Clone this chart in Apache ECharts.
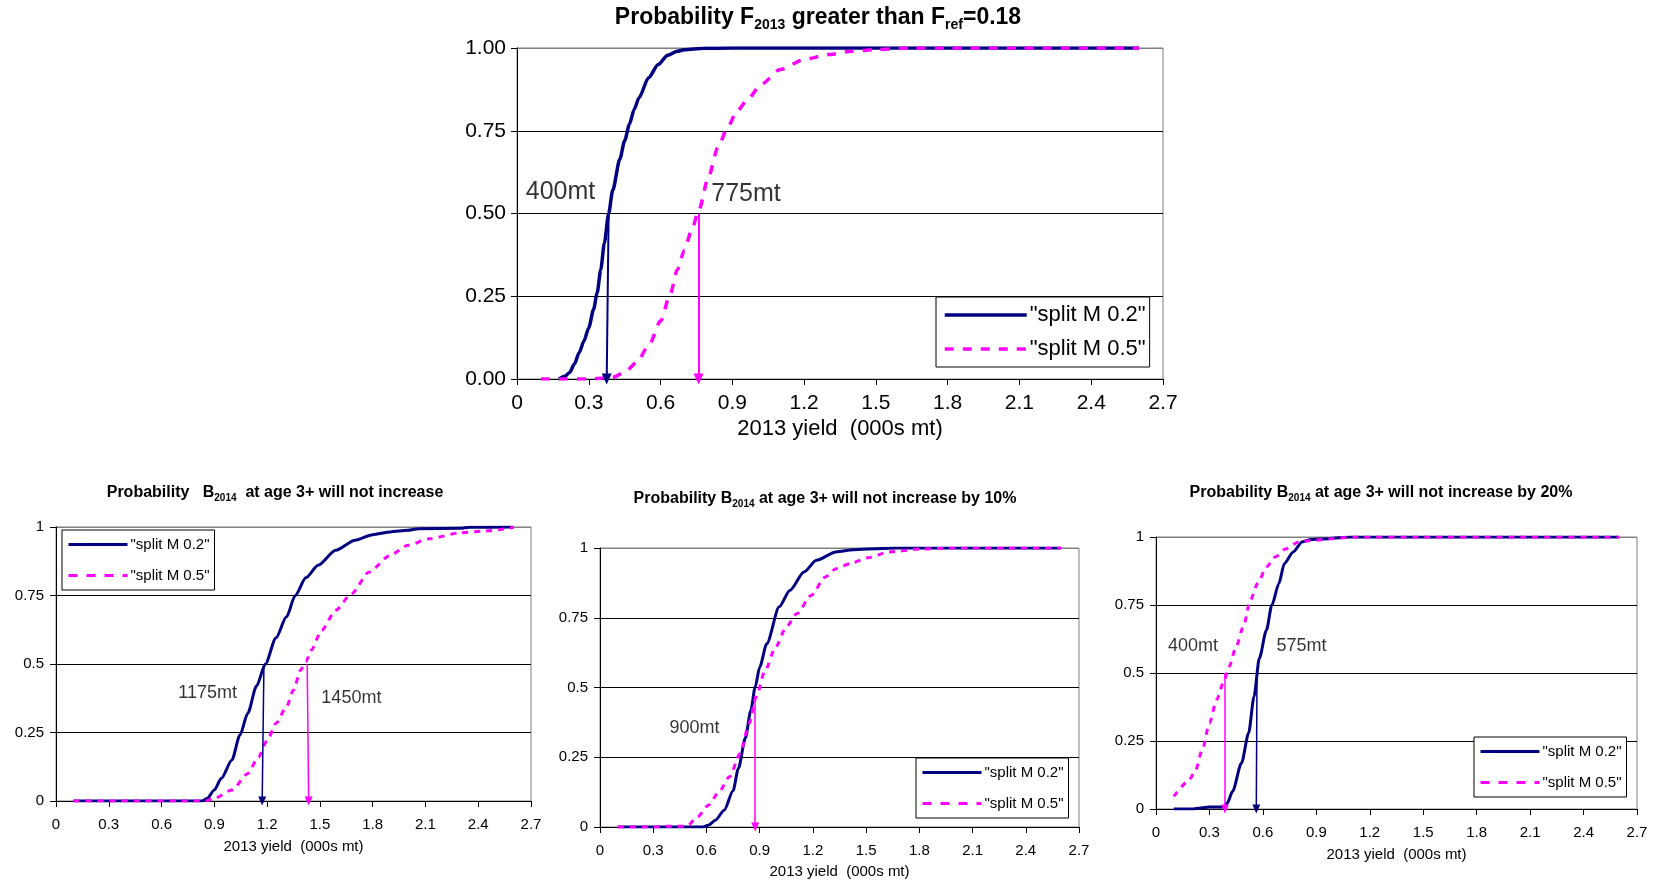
<!DOCTYPE html>
<html>
<head>
<meta charset="utf-8">
<script src="https://cdn.jsdelivr.net/npm/echarts@6/dist/echarts.min.js"></script>
<style>html,body{margin:0;padding:0;background:#fff;}#c{width:1659px;height:886px;}</style>
</head>
<body>
<div id="c"></div>
<script>
// ---------- data ----------
const seriesNames = ['"split M 0.2"', '"split M 0.5"'];
const xTicks = [0, 0.3, 0.6, 0.9, 1.2, 1.5, 1.8, 2.1, 2.4, 2.7];
const yTicks = [0, 0.25, 0.5, 0.75, 1];

const titles = [
  'Probability F{s|2013} greater than F{s|ref}=0.18',
  'Probability   B{s|2014}  at age 3+ will not increase',
  'Probability B{s|2014} at age 3+ will not increase by 10%',
  'Probability B{s|2014} at age 3+ will not increase by 20%'
];
const xName = '2013 yield  (000s mt)';

// Chart 1: Probability F2013 > Fref
const topM02 = [[0.175,0],[0.2,0.008],[0.22,0.02],[0.24,0.045],[0.26,0.08],[0.28,0.115],[0.3,0.155],[0.32,0.21],[0.335,0.26],[0.35,0.33],[0.365,0.41],[0.383,0.5],[0.4,0.57],[0.43,0.665],[0.45,0.72],[0.47,0.77],[0.49,0.815],[0.51,0.85],[0.55,0.91],[0.59,0.95],[0.63,0.978],[0.67,0.99],[0.7,0.995],[0.78,0.999],[0.9,1],[1.2,1],[1.5,1],[1.8,1],[2.1,1],[2.4,1],[2.6,1]];
const topM05 = [[0.1,0],[0.2,0],[0.3,0],[0.4,0.005],[0.45,0.02],[0.5,0.05],[0.55,0.1],[0.6,0.175],[0.64,0.255],[0.67,0.33],[0.7,0.39],[0.73,0.45],[0.76,0.51],[0.8,0.61],[0.84,0.7],[0.88,0.76],[0.92,0.81],[0.97,0.85],[1.02,0.89],[1.1,0.935],[1.2,0.965],[1.3,0.98],[1.4,0.99],[1.5,0.995],[1.65,1],[1.8,1],[2.1,1],[2.4,1],[2.6,1]];
const topArrows = [[0.383,0.5,0.375,0],[0.759,0.5,0.759,0]];   // [M0.2, M0.5]
const topNotes = ['400mt','775mt'];
const topNoteAt = [[0.182,0.564],[0.957,0.558]];

// Chart 2: B2014 will not increase
const blM02 = [[0.1,0],[0.3,0],[0.5,0],[0.7,0],[0.83,0],[0.86,0.01],[0.9,0.04],[0.94,0.083],[1.0,0.15],[1.045,0.24],[1.09,0.32],[1.14,0.42],[1.19,0.5],[1.25,0.595],[1.31,0.672],[1.36,0.75],[1.42,0.815],[1.49,0.86],[1.59,0.915],[1.7,0.952],[1.8,0.972],[1.9,0.982],[2.0,0.988],[2.06,0.994],[2.3,0.995],[2.35,0.999],[2.6,1]];
const blM05 = [[0.1,0],[0.3,0],[0.5,0],[0.7,0],[0.85,0],[0.9,0.01],[1.0,0.04],[1.09,0.1],[1.15,0.16],[1.2,0.22],[1.25,0.283],[1.31,0.344],[1.35,0.405],[1.39,0.478],[1.42,0.508],[1.45,0.55],[1.51,0.623],[1.59,0.696],[1.68,0.757],[1.78,0.836],[1.9,0.897],[2.0,0.933],[2.12,0.957],[2.3,0.979],[2.43,0.985],[2.6,0.998]];
const blArrows = [[1.182,0.5,1.172,0],[1.428,0.5,1.436,0]];
const blNotes = ['1175mt','1450mt'];
const blNoteAt = [[0.862,0.393],[1.679,0.375]];

// Chart 3: B2014 will not increase by 10%
const bmM02 = [[0.1,0],[0.3,0],[0.5,0],[0.58,0],[0.61,0.006],[0.65,0.024],[0.7,0.06],[0.75,0.13],[0.78,0.21],[0.82,0.32],[0.85,0.418],[0.875,0.502],[0.9,0.573],[0.94,0.657],[1.01,0.789],[1.07,0.848],[1.15,0.914],[1.22,0.956],[1.33,0.986],[1.43,0.994],[1.59,0.998],[1.67,1],[2.0,1],[2.3,1],[2.6,1]];
const bmM05 = [[0.1,0],[0.3,0],[0.4,0.003],[0.49,0.003],[0.55,0.036],[0.61,0.078],[0.67,0.125],[0.73,0.18],[0.79,0.263],[0.84,0.37],[0.88,0.466],[0.93,0.56],[0.99,0.645],[1.05,0.717],[1.11,0.765],[1.19,0.83],[1.27,0.896],[1.33,0.926],[1.41,0.944],[1.51,0.965],[1.63,0.986],[1.8,0.996],[2.0,1],[2.3,1],[2.6,1]];
const bmArrows = [null,[0.875,0.47,0.875,0]];
const bmNotes = ['900mt'];
const bmNoteAt = [[0.533,0.354]];

// Chart 4: B2014 will not increase by 20%
const brM02 = [[0.1,0],[0.2,0],[0.25,0.004],[0.3,0.007],[0.38,0.007],[0.4,0.022],[0.43,0.065],[0.48,0.169],[0.52,0.279],[0.55,0.413],[0.58,0.554],[0.62,0.658],[0.65,0.749],[0.69,0.829],[0.72,0.902],[0.77,0.945],[0.82,0.982],[0.87,0.991],[0.97,0.994],[1.09,1],[1.5,1],[2.0,1],[2.6,1]];
const brM05 = [[0.1,0.046],[0.18,0.101],[0.22,0.138],[0.26,0.218],[0.3,0.315],[0.34,0.401],[0.38,0.468],[0.41,0.523],[0.45,0.597],[0.49,0.67],[0.53,0.768],[0.57,0.829],[0.62,0.89],[0.67,0.927],[0.73,0.957],[0.8,0.982],[0.89,0.988],[0.99,0.994],[1.11,1],[1.5,1],[2.0,1],[2.6,1]];
const brArrows = [[0.567,0.5,0.563,0],[0.387,0.5,0.387,0]];
const brNotes = ['400mt','575mt'];
const brNoteAt = [[0.208,0.599],[0.817,0.599]];

// ---------- layout / styles ----------
const FONT = '"Liberation Sans", Arial, sans-serif';
const NAVY = '#000080', MAG = '#FF00FF';
const panels = [
  {m02: topM02, m05: topM05, arrows: topArrows, notes: topNotes, noteAt: topNoteAt,
   grid: {left: 517, top: 48, width: 646, height: 331},
   title: {x: 818, y: 4, fs: 23, sub: 14},
   yFmt: v => v.toFixed(2), tick: 21, name: 22, nameGap: 39, labMargin: 14, yMargin: 11,
   noteFs: 25, lw: 3.5, dash: [9, 9], arrowW: 2, arrowSize: [10, 11],
   legend: {left: 936, top: 297, iw: 82, ih: 22, gap: 12, pad: [7, 4, 7, 7], fs: 22}},
  {m02: blM02, m05: blM05, arrows: blArrows, notes: blNotes, noteAt: blNoteAt,
   grid: {left: 56, top: 527, width: 475, height: 274},
   title: {x: 275, y: 482, fs: 16, sub: 10},
   yFmt: v => String(v), tick: 15, name: 15, nameGap: 38, labMargin: 16, yMargin: 12,
   noteFs: 18, lw: 3, dash: [6, 6], arrowW: 1.5, arrowSize: [8, 9],
   legend: {left: 62, top: 530, iw: 59, ih: 15, gap: 16, pad: [7, 5], fs: 15}},
  {m02: bmM02, m05: bmM05, arrows: bmArrows, notes: bmNotes, noteAt: bmNoteAt,
   grid: {left: 600, top: 548, width: 479, height: 279},
   title: {x: 825, y: 488, fs: 16, sub: 10},
   yFmt: v => String(v), tick: 15, name: 15, nameGap: 37, labMargin: 16, yMargin: 12,
   noteFs: 18, lw: 3, dash: [6, 6], arrowW: 1.5, arrowSize: [8, 9],
   legend: {left: 916, top: 758, iw: 59, ih: 15, gap: 16, pad: [7, 5], fs: 15}},
  {m02: brM02, m05: brM05, arrows: brArrows, notes: brNotes, noteAt: brNoteAt,
   grid: {left: 1156, top: 537, width: 481, height: 272},
   title: {x: 1381, y: 482, fs: 16, sub: 10},
   yFmt: v => String(v), tick: 15, name: 15, nameGap: 38, labMargin: 16, yMargin: 12,
   noteFs: 18, lw: 3, dash: [6, 6], arrowW: 1.5, arrowSize: [8, 9],
   legend: {left: 1474, top: 737, iw: 59, ih: 15, gap: 16, pad: [7, 5], fs: 15}}
];

const option = {
  animation: false,
  textStyle: {fontFamily: FONT},
  title: [], legend: [], grid: [], xAxis: [], yAxis: [], series: []
};

function arrowLine(a, color, w, size) {
  if (!a) return undefined;
  return {
    silent: true,
    symbol: ['none', 'triangle'],
    symbolSize: size,
    lineStyle: {color: color, width: w, type: 'solid'},
    itemStyle: {color: color},
    label: {show: false},
    emphasis: {disabled: true},
    data: [[{coord: [a[0], a[1]]}, {coord: [a[2], a[3]]}]]
  };
}

panels.forEach((p, i) => {
  option.title.push({
    text: titles[i], left: p.title.x, top: p.title.y, textAlign: 'center', padding: 0,
    textStyle: {fontSize: p.title.fs, fontWeight: 'bold', color: '#000', fontFamily: FONT,
      lineHeight: p.title.fs + 5,
      rich: {s: {fontSize: p.title.sub, fontWeight: 'bold', color: '#000', fontFamily: FONT,
        verticalAlign: 'bottom', lineHeight: p.title.sub + 1}}}
  });
  option.grid.push(Object.assign({show: true, borderColor: '#808080', borderWidth: 1,
    backgroundColor: '#fff'}, p.grid));
  option.xAxis.push({
    type: 'value', gridIndex: i, min: 0, max: 2.7, interval: 0.3,
    name: xName, nameLocation: 'middle', nameGap: p.nameGap,
    nameTextStyle: {fontSize: p.name, color: '#000', fontFamily: FONT},
    axisLine: {show: true, onZero: false, lineStyle: {color: '#000', width: 1}},
    axisTick: {show: true, length: 6, lineStyle: {color: '#000'}},
    axisLabel: {fontSize: p.tick, color: '#000', margin: p.labMargin, fontFamily: FONT,
      formatter: v => String(+v.toFixed(1)), showMaxLabel: true, showMinLabel: true},
    splitLine: {show: false}
  });
  option.yAxis.push({
    type: 'value', gridIndex: i, min: 0, max: 1, interval: 0.25,
    axisLine: {show: true, lineStyle: {color: '#000', width: 1}},
    axisTick: {show: true, length: 6, lineStyle: {color: '#000'}},
    axisLabel: {fontSize: p.tick, color: '#000', margin: p.yMargin, fontFamily: FONT, formatter: p.yFmt},
    splitLine: {show: true, lineStyle: {color: ['#000', '#000', '#000', '#000', '#808080'], width: 1}}
  });
  option.legend.push({
    orient: 'vertical', left: p.legend.left, top: p.legend.top,
    data: seriesNames, itemWidth: p.legend.iw, itemHeight: p.legend.ih, itemGap: p.legend.gap,
    padding: p.legend.pad, borderColor: '#000', borderWidth: 1, backgroundColor: '#fff',
    borderRadius: 0, align: 'left', selectedMode: false,
    itemStyle: {opacity: 0, borderWidth: 0},
    lineStyle: {width: p.lw},
    textStyle: {fontSize: p.legend.fs, color: '#000', fontFamily: FONT, padding: [0, 0, 0, -2]}
  });
  option.series.push({
    name: seriesNames[0], type: 'line', xAxisIndex: i, yAxisIndex: i, data: p.m02,
    symbol: 'none', smooth: 0.25, smoothMonotone: 'x', silent: true,
    lineStyle: {color: NAVY, width: p.lw}, itemStyle: {color: NAVY},
    markLine: arrowLine(p.arrows[0], NAVY, p.arrowW, p.arrowSize)
  });
  option.series.push({
    name: seriesNames[1], type: 'line', xAxisIndex: i, yAxisIndex: i, data: p.m05,
    symbol: 'none', smooth: 0.25, smoothMonotone: 'x', silent: true,
    lineStyle: {color: MAG, width: p.lw, type: p.dash, cap: 'butt'}, itemStyle: {color: MAG},
    markLine: arrowLine(p.arrows[1], MAG, p.arrowW, p.arrowSize)
  });
  option.series.push({
    name: 'notes' + i, type: 'scatter', xAxisIndex: i, yAxisIndex: i, silent: true,
    symbolSize: 0, z: 5,
    data: p.notes.map((t, k) => ({name: t, value: p.noteAt[k]})),
    label: {show: true, position: 'inside', formatter: '{b}', color: '#000',
      textBorderWidth: 0, textBorderColor: 'transparent',
      fontSize: p.noteFs, fontFamily: FONT}
  });
});

const chart = echarts.init(document.getElementById('c'), null, {renderer: 'canvas'});
chart.setOption(option);
</script>
</body>
</html>
